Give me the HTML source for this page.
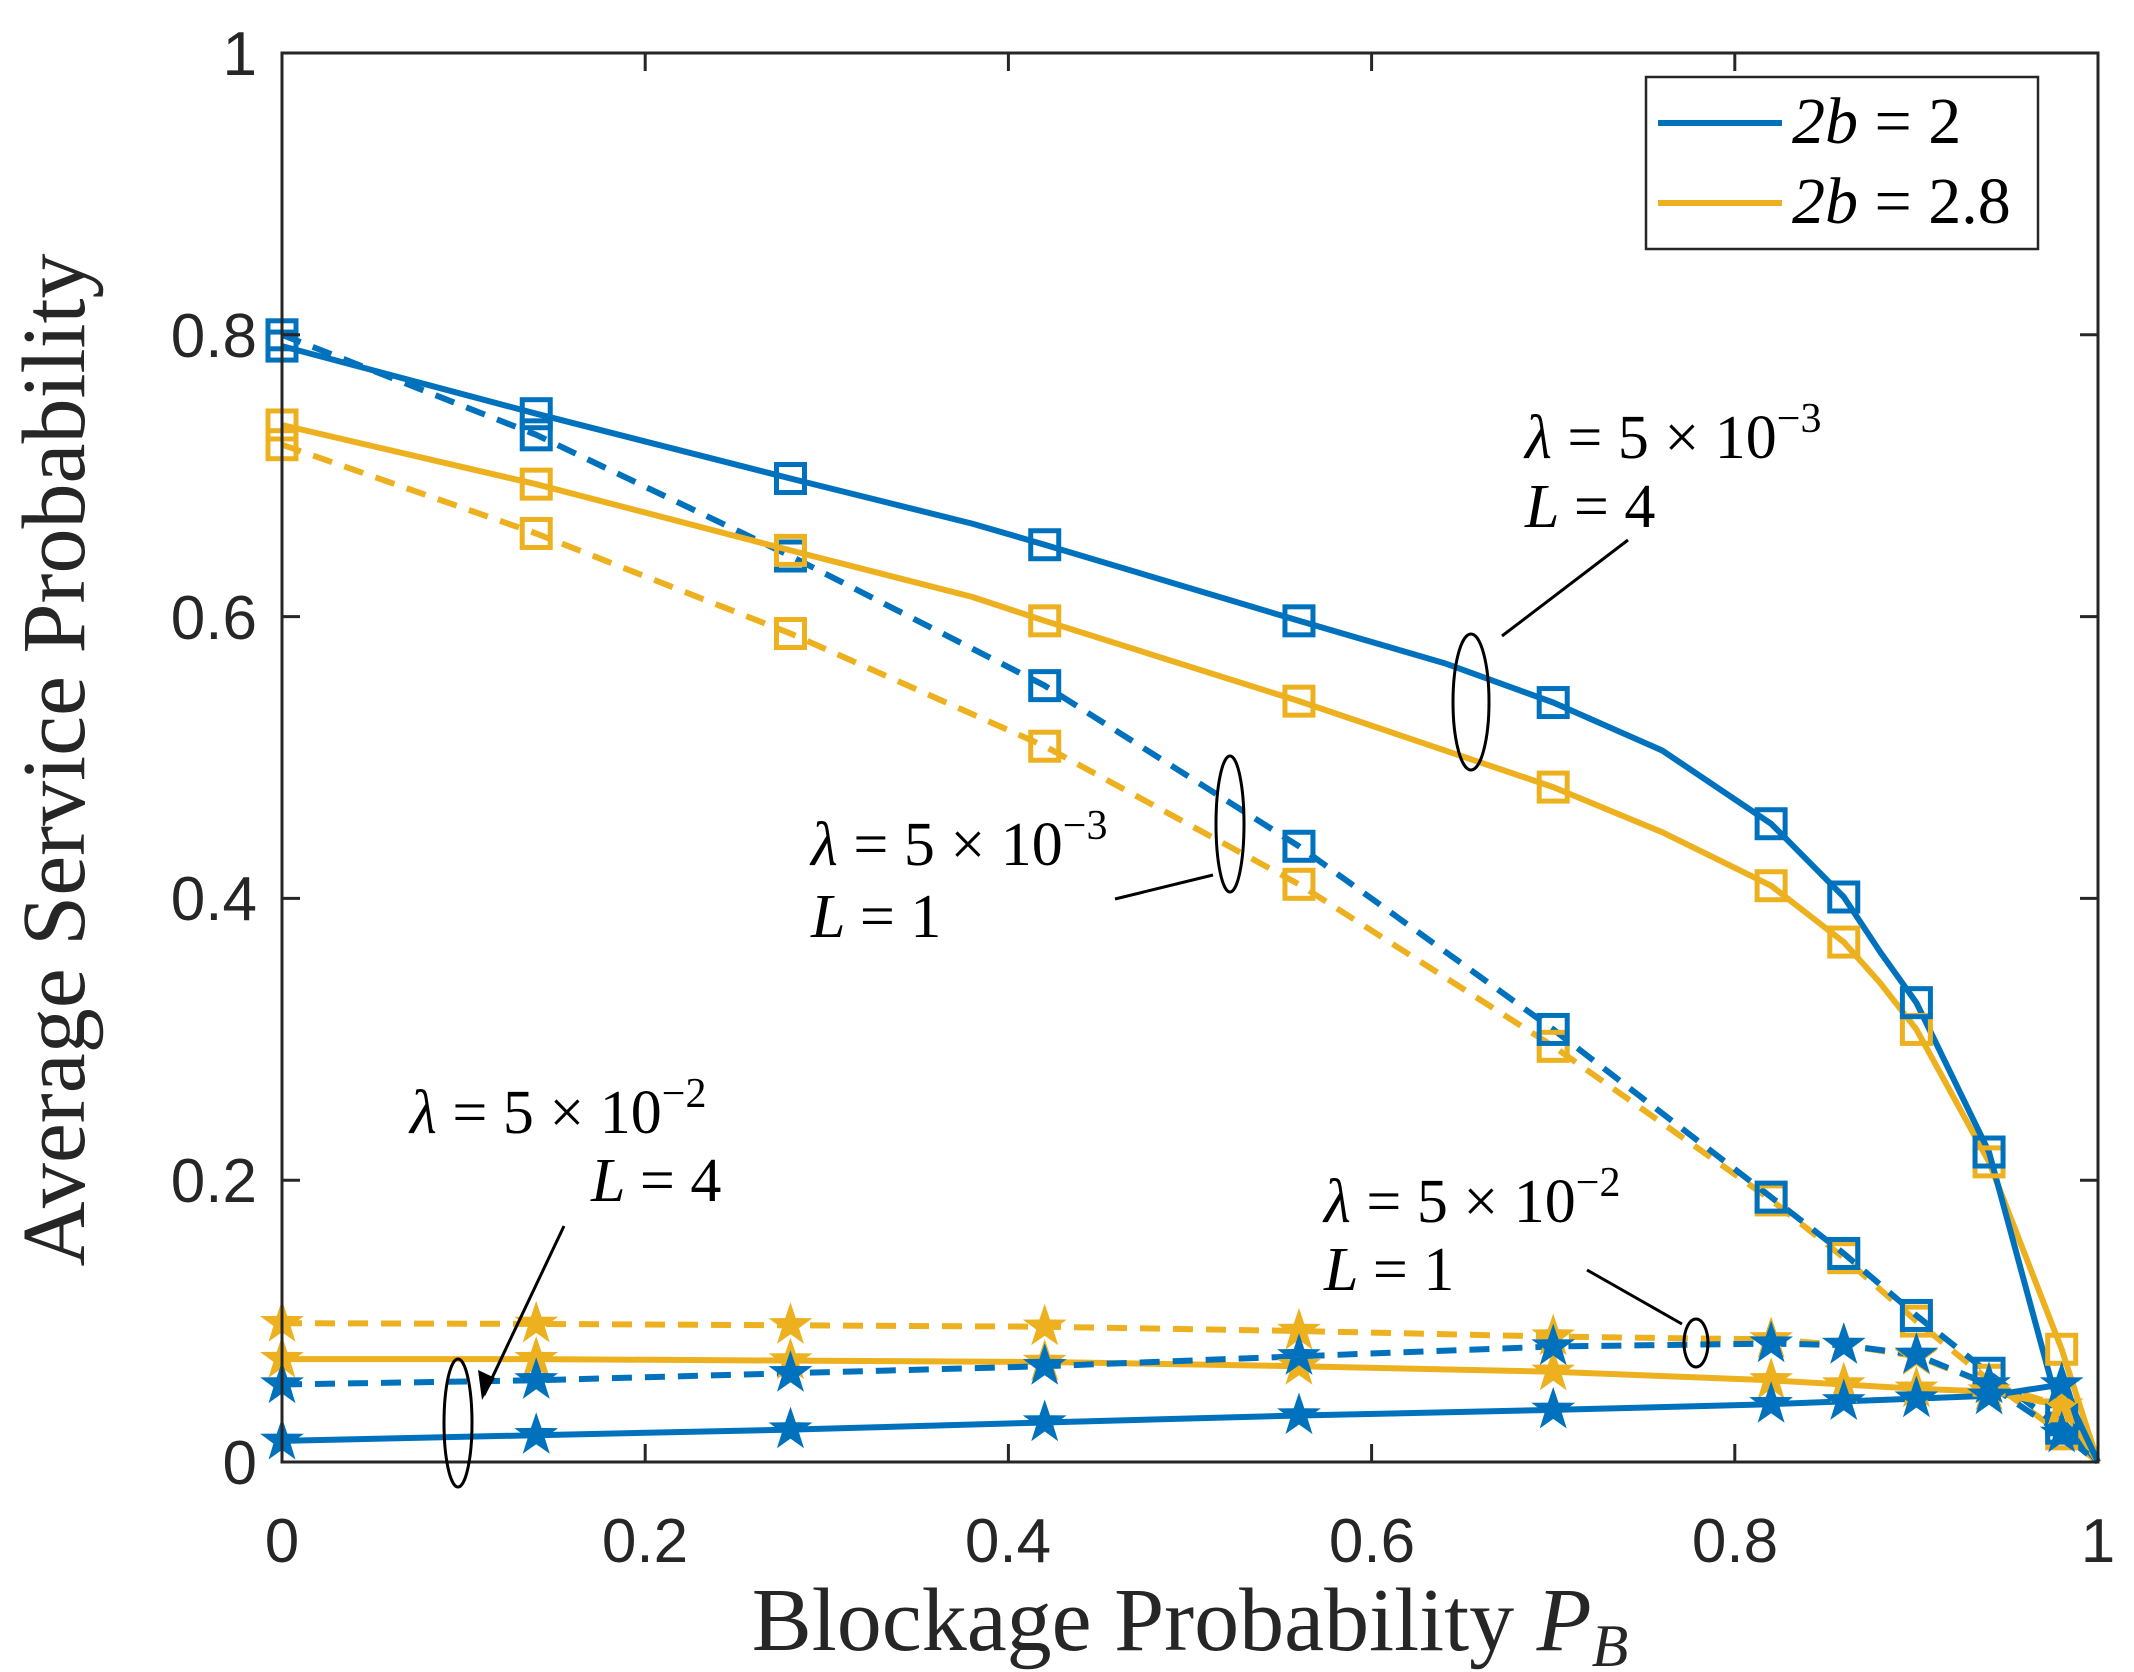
<!DOCTYPE html>
<html><head><meta charset="utf-8"><style>
html,body{margin:0;padding:0;background:#fff;}
svg{display:block;}
.t{font-family:"Liberation Sans",sans-serif;font-size:62px;fill:#262626;}
.m{font-family:"Liberation Serif",serif;font-style:italic;font-size:62px;fill:#000;}
</style></head><body>
<svg id="s" width="2134" height="1672" xmlns="http://www.w3.org/2000/svg">
<rect width="2134" height="1672" fill="#fff"/>
<g id="plot"></g>
<rect x="282" y="53" width="1816" height="1409" fill="none" stroke="#262626" stroke-width="3"/>
<g id="ticks" stroke="#262626" stroke-width="3"></g>
<g class="t" text-anchor="end">
<text x="257" y="1484">0</text><text x="257" y="1202">0.2</text><text x="257" y="920">0.4</text>
<text x="257" y="639">0.6</text><text x="257" y="357">0.8</text><text x="257" y="75">1</text>
</g>
<g class="t" text-anchor="middle">
<text x="282" y="1562">0</text><text x="645" y="1562">0.2</text><text x="1008" y="1562">0.4</text>
<text x="1372" y="1562">0.6</text><text x="1735" y="1562">0.8</text><text x="2098" y="1562">1</text>
</g>
<text x="1190" y="1650" text-anchor="middle" style="font-family:'Liberation Serif',serif;font-size:90px;fill:#262626">Blockage Probability <tspan font-style="italic">P</tspan><tspan font-style="italic" font-size="60" dy="16">B</tspan></text>
<text transform="translate(84,760) rotate(-90)" text-anchor="middle" style="font-family:'Liberation Serif',serif;font-size:90px;fill:#262626">Average Service Probability</text>
<!-- legend -->
<rect x="1646" y="77" width="392" height="172" fill="#fff" stroke="#262626" stroke-width="2.5"/>
<line x1="1658" y1="123" x2="1782" y2="123" stroke="#0072BD" stroke-width="6"/>
<line x1="1658" y1="203" x2="1782" y2="203" stroke="#EDB120" stroke-width="6"/>
<text class="m" x="1792" y="143" style="font-size:66px">2b <tspan font-style="normal">= 2</tspan></text>
<text class="m" x="1792" y="223" style="font-size:66px">2b <tspan font-style="normal">= 2.8</tspan></text>
<!-- annotations -->
<g fill="none" stroke="#000" stroke-width="3">
<ellipse cx="1471" cy="702" rx="18" ry="68"/><line x1="1502" y1="636" x2="1628" y2="540"/>
<ellipse cx="1230" cy="824" rx="14" ry="68"/><line x1="1213" y1="875" x2="1115" y2="899"/>
<ellipse cx="458" cy="1423" rx="14" ry="64"/><line x1="564" y1="1226" x2="484" y2="1395"/>
<ellipse cx="1696" cy="1343" rx="12" ry="24"/><line x1="1587" y1="1270" x2="1682" y2="1324"/>
</g>
<polygon points="482,1400 478,1370 495,1378" fill="#000"/>
<text class="m" x="1525" y="458">λ <tspan font-style="normal">= 5 × 10</tspan><tspan font-style="normal" font-size="42" dy="-26">−3</tspan></text>
<text class="m" x="1525" y="527">L <tspan font-style="normal">= 4</tspan></text>
<text class="m" x="811" y="865">λ <tspan font-style="normal">= 5 × 10</tspan><tspan font-style="normal" font-size="42" dy="-26">−3</tspan></text>
<text class="m" x="811" y="937">L <tspan font-style="normal">= 1</tspan></text>
<text class="m" x="410" y="1133">λ <tspan font-style="normal">= 5 × 10</tspan><tspan font-style="normal" font-size="42" dy="-26">−2</tspan></text>
<text class="m" x="591" y="1201">L <tspan font-style="normal">= 4</tspan></text>
<text class="m" x="1324" y="1222">λ <tspan font-style="normal">= 5 × 10</tspan><tspan font-style="normal" font-size="42" dy="-26">−2</tspan></text>
<text class="m" x="1324" y="1290">L <tspan font-style="normal">= 1</tspan></text>
</svg>
<script>
(function(){
var NS="http://www.w3.org/2000/svg";
function X(v){return 282+1816*v;} function Y(v){return 1462-1409*v;}
var xs=[0,0.14,0.28,0.42,0.56,0.70,0.82,0.86,0.90,0.94,0.98,1.0];
var B="#0072BD",O="#EDB120";
var series=[
 {c:O,d:"20 13",m:"s",y:[0.722,0.659,0.588,0.508,0.41,0.295,0.186,0.145,0.10,0.058,0.02,0]},
 {c:B,d:"20 13",m:"s",y:[0.80,0.729,0.643,0.551,0.437,0.307,0.188,0.148,0.104,0.063,0.024,0]},
 {c:O,d:"",m:"s",y:[0.736,0.694,0.647,0.597,0.540,0.479,0.409,0.369,0.307,0.213,0.08,0],
  extra:[[0.38,0.614],[0.76,0.447],[0.88,0.34]]},
 {c:B,d:"",m:"s",y:[0.792,0.744,0.698,0.651,0.597,0.539,0.453,0.401,0.326,0.22,0.03,0],
  extra:[[0.38,0.666],[0.64,0.567],[0.76,0.505],[0.88,0.362]]},
 {c:O,d:"20 13",m:"p",y:[0.0985,0.098,0.097,0.096,0.093,0.089,0.087,0.083,0.075,0.055,0.04,0]},
 {c:O,d:"",m:"p",y:[0.073,0.073,0.072,0.071,0.068,0.064,0.058,0.055,0.052,0.050,0.040,0]},
 {c:B,d:"20 13",m:"p",y:[0.055,0.058,0.063,0.068,0.075,0.082,0.084,0.083,0.076,0.055,0.02,0]},
 {c:B,d:"",m:"p",y:[0.015,0.019,0.023,0.028,0.033,0.037,0.041,0.043,0.045,0.047,0.055,0]}
];
var g=document.getElementById("plot");
function el(n,a){var e=document.createElementNS(NS,n);for(var k in a)e.setAttribute(k,a[k]);g.appendChild(e);return e;}
series.forEach(function(s){
 var pts=xs.map(function(x,i){return [x,s.y[i]];});
 if(s.extra)pts=pts.concat(s.extra);
 pts.sort(function(a,b){return a[0]-b[0];});
 var p=pts.map(function(q){return X(q[0]).toFixed(1)+","+Y(q[1]).toFixed(1);}).join(" ");
 var a={points:p,fill:"none",stroke:s.c,"stroke-width":6,"stroke-linejoin":"round"};
 if(s.d)a["stroke-dasharray"]=s.d;
 el("polyline",a);
});
series.forEach(function(s){
 for(var i=0;i<xs.length-1;i++){
  var cx=X(xs[i]),cy=Y(s.y[i]);
  if(s.m=="s"){el("rect",{x:cx-14,y:cy-14,width:28,height:28,fill:"none",stroke:s.c,"stroke-width":5});}
  else{var pts=[];for(var k=0;k<10;k++){var r=k%2?9:23,a=-Math.PI/2+k*Math.PI/5;pts.push((cx+r*Math.cos(a)).toFixed(1)+","+(cy+r*Math.sin(a)).toFixed(1));}
   el("polygon",{points:pts.join(" "),fill:s.c});}
 }
});
var t=document.getElementById("ticks");
function ln(a){var e=document.createElementNS(NS,"line");for(var k in a)e.setAttribute(k,a[k]);t.appendChild(e);}
for(var i=0;i<=5;i++){var x=X(i*0.2),y=Y(i*0.2);
 ln({x1:x,y1:1462,x2:x,y2:1444});ln({x1:x,y1:53,x2:x,y2:71});
 ln({x1:282,y1:y,x2:300,y2:y});ln({x1:2098,y1:y,x2:2080,y2:y});}
})();
</script>
</body></html>
